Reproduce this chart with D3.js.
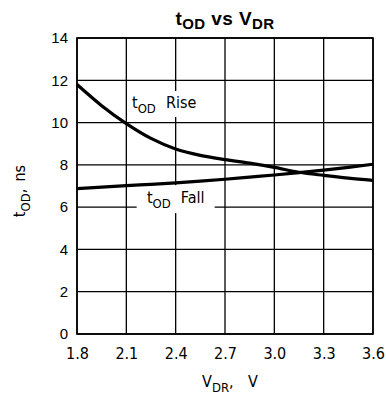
<!DOCTYPE html>
<html>
<head>
<meta charset="utf-8">
<script src="https://cdn.jsdelivr.net/npm/d3@7"></script>
<style>
  body { margin: 0; background: #fff; }
  svg text { font-family: "Liberation Sans", Arial, sans-serif; fill: #000; }
  .narrow { font-family: "Liberation Sans Narrow", "DejaVu Sans Condensed", "Liberation Sans", sans-serif !important; }
</style>
</head>
<body>
<div id="chart"></div>
<script>
const width = 386;
const height = 400;
const margin = { top: 38, right: 13, bottom: 66, left: 77 };

// data
const vdr = [1.8, 1.95, 2.1, 2.25, 2.4, 2.55, 2.7, 2.85, 3.0, 3.15, 3.3, 3.45, 3.6];
const riseNs = [11.8, 10.8, 9.95, 9.25, 8.75, 8.45, 8.25, 8.08, 7.88, 7.65, 7.5, 7.37, 7.27];
const fallNs = [6.88, 6.95, 7.02, 7.08, 7.15, 7.23, 7.32, 7.42, 7.52, 7.63, 7.75, 7.88, 8.03];
const xTicks = [1.8, 2.1, 2.4, 2.7, 3.0, 3.3, 3.6];
const yTicks = [0, 2, 4, 6, 8, 10, 12, 14];

const w = width - margin.left - margin.right;
const h = height - margin.top - margin.bottom;

const svg = d3.select("#chart")
  .append("svg")
  .attr("width", width)
  .attr("height", height);

const g = svg.append("g")
  .attr("transform", `translate(${margin.left},${margin.top})`);

const x = d3.scaleLinear().domain([1.8, 3.6]).range([0, w]);
const y = d3.scaleLinear().domain([0, 14]).range([h, 0]);

// grid
g.append("g")
  .selectAll("line")
  .data(xTicks)
  .join("line")
  .attr("x1", d => x(d)).attr("x2", d => x(d))
  .attr("y1", 0).attr("y2", h)
  .attr("stroke", "#000").attr("stroke-width", 1.3);

g.append("g")
  .selectAll("line")
  .data(yTicks)
  .join("line")
  .attr("x1", 0).attr("x2", w)
  .attr("y1", d => y(d)).attr("y2", d => y(d))
  .attr("stroke", "#000").attr("stroke-width", 1.3);

// tick labels
g.append("g")
  .attr("transform", `translate(0,${h})`)
  .call(d3.axisBottom(x).tickValues(xTicks).tickSize(0).tickPadding(14).tickFormat(d3.format(".1f")))
  .call(a => a.select(".domain").remove())
  .selectAll("text")
  .attr("class", "narrow")
  .style("font-size", "16px");

g.append("g")
  .call(d3.axisLeft(y).tickValues(yTicks).tickSize(0).tickPadding(9))
  .call(a => a.select(".domain").remove())
  .selectAll("text")
  .style("font-size", "15px");

// curve labels with white boxes behind them
function label(cx, cy, name, bw, bh) {
  const lg = g.append("g").attr("transform", `translate(${cx},${cy})`);
  lg.append("rect")
    .attr("x", -bw / 2).attr("y", -bh / 2)
    .attr("width", bw).attr("height", bh)
    .attr("fill", "#fff");
  const t = lg.append("text")
    .attr("class", "narrow")
    .attr("text-anchor", "middle")
    .attr("y", 4)
    .style("font-size", "16px");
  t.append("tspan").text("t");
  t.append("tspan").attr("dy", 5).style("font-size", "13px").text("OD");
  t.append("tspan").attr("dy", -5).text("\u2002\u2009" + name);
}

label(x(2.33), y(10.88), "Rise", 72, 26);
label(x(2.4), y(6.38), "Fall", 78, 28);

const line = d3.line()
  .x((d, i) => x(vdr[i]))
  .y(d => y(d))
  .curve(d3.curveMonotoneX);

g.append("path")
  .datum(riseNs)
  .attr("fill", "none")
  .attr("stroke", "#000")
  .attr("stroke-width", 3.2)
  .attr("d", line);

g.append("path")
  .datum(fallNs)
  .attr("fill", "none")
  .attr("stroke", "#000")
  .attr("stroke-width", 3.2)
  .attr("d", line);

// frame
g.append("rect")
  .attr("width", w).attr("height", h)
  .attr("fill", "none")
  .attr("stroke", "#000")
  .attr("stroke-width", 1.6);

// title
const title = svg.append("text")
  .attr("x", margin.left + w / 2)
  .attr("y", 25)
  .attr("text-anchor", "middle")
  .style("font-size", "19px")
  .style("font-weight", "bold")
  .style("letter-spacing", "0.4px");
title.append("tspan").text("t");
title.append("tspan").attr("dy", 4).style("font-size", "15px").text("OD");
title.append("tspan").attr("dy", -4).text(" vs V");
title.append("tspan").attr("dy", 4).style("font-size", "15px").text("DR");

// x axis title
const xt = svg.append("text")
  .attr("class", "narrow")
  .attr("x", margin.left + w / 2 + 5)
  .attr("y", 387)
  .attr("text-anchor", "middle")
  .style("font-size", "16px");
xt.append("tspan").text("V");
xt.append("tspan").attr("dy", 5).style("font-size", "13px").text("DR");
xt.append("tspan").attr("dy", -5).text(",\u2003V");

// y axis title
const yt = svg.append("text")
  .attr("class", "narrow")
  .attr("transform", `translate(25,191) rotate(-90)`)
  .attr("text-anchor", "middle")
  .style("font-size", "16px");
yt.append("tspan").text("t");
yt.append("tspan").attr("dy", 5).style("font-size", "13px").text("OD");
yt.append("tspan").attr("dy", -5).text(",\u2002ns");
</script>
</body>
</html>
